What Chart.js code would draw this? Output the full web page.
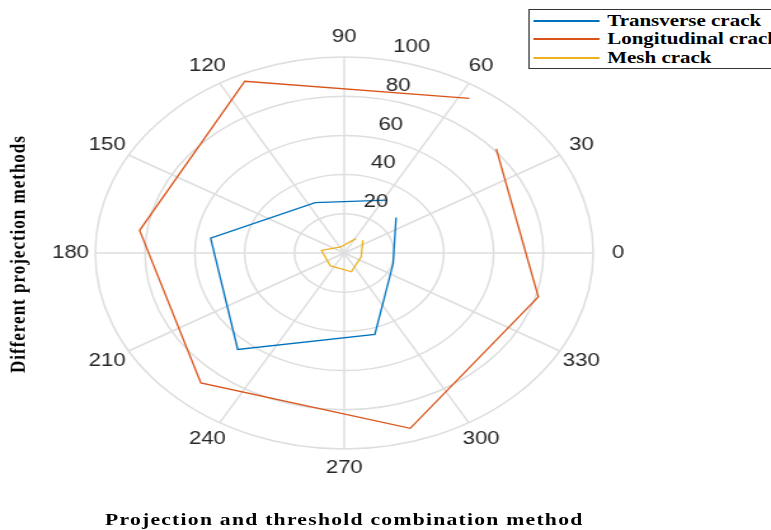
<!DOCTYPE html>
<html>
<head>
<meta charset="utf-8">
<title>Crack detection by projection method</title>
<script src="https://cdn.jsdelivr.net/npm/chart.js@4/dist/chart.umd.min.js"></script>
<style>
  html, body { margin: 0; padding: 0; background: #fff; width: 771px; height: 530px; overflow: hidden; }
  /* The figure is laid out at 607x530 and widened to 771px, like the printed figure */
  #stage { position: absolute; left: 0; top: 0; width: 607px; height: 530px; overflow: hidden;
           transform-origin: 0 0; transform: scaleX(1.2702); }
  #polar { position: absolute; left: 0; top: 0; }
  .axis-title { position: absolute; font: bold 17px "Liberation Serif", "Times New Roman", serif;
                letter-spacing: 1px; line-height: 17px; color: #000; white-space: nowrap; }
  #xtitle { left: 271px; top: 510.5px; transform: translateX(-50%); }
  #ytitle { left: 14px; top: 254px; transform: translate(-50%, -50%) rotate(-90deg); }
  #legend { position: absolute; left: 415.9px; top: 9px; width: 230px; height: 60px;
            box-sizing: border-box; border: 1px solid #333; background: #fff; }
  .lg-line { position: absolute; left: 3.5px; width: 52px; height: 2px; }
  .lg-text { position: absolute; left: 61.2px; font: bold 16.5px "Liberation Serif", "Times New Roman", serif;
             line-height: 16px; color: #000; white-space: nowrap; }
</style>
</head>
<body>
<div id="stage">
  <canvas id="polar" width="607" height="530"></canvas>
  <div id="legend"></div>
  <div id="xtitle" class="axis-title">Projection and threshold combination method</div>
  <div id="ytitle" class="axis-title">Different projection methods</div>
</div>
<script>
// Polar samples: angle in radians, radius in percent
const thetaRad = [1, 2, 3, 4, 5, 6, 7];
const seriesNames = ['Transverse crack', 'Longitudinal crack', 'Mesh crack'];
const transverse = [32.0, 28.2, 54.2, 65.2, 43.3, 20.4, 27.6];
const longitudinal = [93.5, 96.3, 83.0, 87.8, 93.3, 81.1, 80.9];
const mesh = [8.7, 3.4, 9.2, 8.6, 10.0, 7.1, 9.9];
const seriesColors = ['#0072BD', '#D95319', '#EDB120'];

// Axis ticks
const angleTicks = [0, 30, 60, 90, 120, 150, 180, 210, 240, 270, 300, 330];
const radialTicks = [20, 40, 60, 80, 100];

// The radar scale is split into half-degree slots; slot 0 sits at 41 deg and
// slots advance clockwise, so angles grow counter-clockwise as in a polar plot.
const SLOT_COUNT = 720;
const SLOT_START = 41;
function slotOf(deg) {
  return ((Math.round(2 * (SLOT_START - deg)) % SLOT_COUNT) + SLOT_COUNT) % SLOT_COUNT;
}
const slotLabels = Array.from({ length: SLOT_COUNT }, (_, i) => String(SLOT_START - i / 2));

function toSlots(values) {
  const arr = new Array(SLOT_COUNT).fill(null);
  thetaRad.forEach((t, k) => { arr[slotOf(t * 180 / Math.PI)] = values[k]; });
  return arr;
}

const spokeSlots = new Set(angleTicks.map(slotOf));
const GRID = '#dedede';
const LABEL_FONT = '17.5px "Liberation Sans", Arial, sans-serif';
const LABEL_COLOR = '#262626';

// Polar lines are open curves: the first and last samples are not joined
const openPolyline = {
  id: 'openPolyline',
  afterDatasetUpdate(chart, args) {
    const line = args.meta.dataset;
    if (line) {
      line._loop = false;
      line._fullLoop = false;
      delete line._segments;
      delete line._path;
    }
  }
};

// Theta labels around the rim and r labels along the 81.5 deg direction
const polarLabels = {
  id: 'polarLabels',
  afterDatasetsDraw(chart) {
    const r = chart.scales.r;
    const c = chart.ctx;
    c.save();
    c.font = LABEL_FONT;
    c.fillStyle = LABEL_COLOR;
    c.textBaseline = 'middle';
    c.textAlign = 'center';
    angleTicks.forEach(a => {
      const p = r.getPointPosition(slotOf(a), r.drawingArea + 19.5);
      c.fillText(String(a), p.x, p.y);
    });
    c.textAlign = 'left';
    const rs = slotOf(81.5);
    radialTicks.forEach(v => {
      const p = r.getPointPositionForValue(rs, v);
      c.fillText(String(v), p.x + 9.5, p.y - 12);
    });
    c.restore();
  }
};

const seriesValues = [transverse, longitudinal, mesh];
const chart = new Chart(document.getElementById('polar'), {
  type: 'radar',
  data: {
    labels: slotLabels,
    datasets: seriesValues.map((vals, k) => ({
      label: seriesNames[k],
      data: toSlots(vals),
      borderColor: seriesColors[k],
      borderWidth: 1.3,
      fill: false,
      spanGaps: true,
      pointRadius: 0,
      pointHoverRadius: 0,
      tension: 0
    }))
  },
  options: {
    responsive: false,
    animation: false,
    events: [],
    layout: { padding: { left: 75, right: 140, top: 57, bottom: 81 } },
    plugins: { legend: { display: false }, tooltip: { enabled: false } },
    scales: {
      r: {
        min: 0,
        max: 100,
        startAngle: 90 - SLOT_START,
        ticks: { display: false, stepSize: 20 },
        pointLabels: { display: false },
        grid: { circular: true, color: GRID, lineWidth: 1.5 },
        angleLines: {
          color: GRID,
          lineWidth: ctx => spokeSlots.has(ctx.index) ? 1.5 : 0
        }
      }
    }
  },
  plugins: [openPolyline, polarLabels]
});

// Legend built from the chart's datasets
const legend = document.getElementById('legend');
const rowTops = [10, 28, 47];
chart.data.datasets.forEach((ds, k) => {
  const ln = document.createElement('div');
  ln.className = 'lg-line';
  ln.style.top = rowTops[k] + 'px';
  ln.style.backgroundColor = ds.borderColor;
  const tx = document.createElement('div');
  tx.className = 'lg-text';
  tx.style.top = (rowTops[k] - 7) + 'px';
  tx.textContent = ds.label;
  legend.appendChild(ln);
  legend.appendChild(tx);
});
</script>
</body>
</html>
